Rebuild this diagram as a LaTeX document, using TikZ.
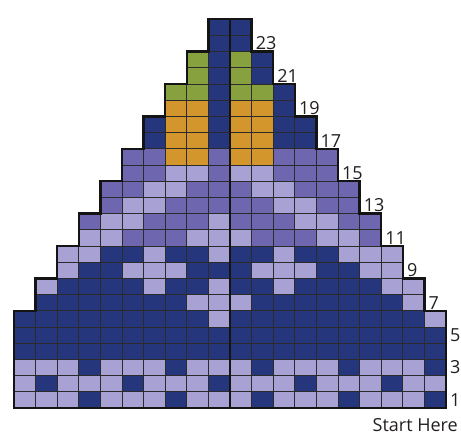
\documentclass[tikz,border=0pt]{standalone}
\usepackage{fontspec}
\setmainfont{Open Sans}
\definecolor{cD}{HTML}{26367C}
\definecolor{cL}{HTML}{A8A2D4}
\definecolor{cM}{HTML}{6E67B0}
\definecolor{cO}{HTML}{D3962C}
\definecolor{cG}{HTML}{86A13E}
\definecolor{gridc}{HTML}{2B2B2B}
\definecolor{txt}{HTML}{231F20}
\tikzset{
  cellbox/.style={draw=gridc, line width=0.9pt},
  outline/.style={draw=black!92, line width=2.3pt, line join=miter},
  centerline/.style={draw=black!92, line width=1.8pt},
  lbltext/.style={inner sep=0pt, font=\fontsize{18}{18}\selectfont, text=txt},
  rowlabel/.style={lbltext, anchor=west, xshift=4pt},
}
\begin{document}
\begin{tikzpicture}[x=1pt,y=1pt]
\useasboundingbox (0,0) rectangle (461,436);
\begin{scope}[shift={(14,28)}, x=21.6pt, y=16.2pt]
\foreach \r/\s/\lst in {
 1/0/{L,L,L,D,L,L,L,D,L,L,L,D,L,L,L,D,L,L,L,D},
 2/0/{L,D,L,L,L,D,L,L,L,D,L,L,L,D,L,L,L,D,L,L},
 3/0/{L,L,L,D,L,L,L,D,L,L,L,D,L,L,L,D,L,L,L,D},
 4/0/{D,D,D,D,D,D,D,D,D,D,D,D,D,D,D,D,D,D,D,D},
 5/0/{D,D,D,D,D,D,D,D,D,D,D,D,D,D,D,D,D,D,D,D},
 6/0/{D,D,D,D,D,D,D,D,D,L,D,D,D,D,D,D,D,D,D,L},
 7/1/{D,D,D,D,D,D,D,L,L,L,D,D,D,D,D,D,D,L},
 8/1/{L,D,D,D,D,L,D,D,L,D,D,L,D,D,D,D,L,L},
 9/2/{L,D,D,L,L,L,D,D,D,L,L,L,D,D,L,L},
 10/2/{L,L,D,D,L,D,D,L,D,D,L,D,D,L,L,L},
 11/3/{L,L,M,M,M,L,L,L,M,M,M,L,L,M},
 12/3/{M,L,L,M,M,M,L,M,M,M,L,L,M,M},
 13/4/{M,L,L,M,M,M,M,M,L,L,M,M},
 14/4/{M,M,L,L,M,M,M,L,L,M,M,M},
 15/5/{M,M,L,L,M,L,L,M,M,M},
 16/5/{M,M,O,O,M,O,O,M,M,M},
 17/6/{D,O,O,D,O,O,D,D},
 18/6/{D,O,O,D,O,O,D,D},
 19/7/{O,O,D,O,O,D},
 20/7/{G,G,D,G,G,D},
 21/8/{G,D,G,D},
 22/8/{G,D,G,D},
 23/9/{D,D},
 24/9/{D,D}}
{
  \foreach \c [count=\i from 0] in \lst {
    \path[cellbox, fill=c\c] ({\s+\i},{\r-1}) rectangle ++(1,1);
  }
}
\coordinate (cb) at (10,0);
\coordinate (ct) at (10,24);
\path[centerline] (cb) -- (ct);
\path[outline] (0,0) -- (20,0) -- (20,6) -- (19,6) -- (19,8) -- (18,8) -- (18,10) -- (17,10) -- (17,12) -- (16,12) -- (16,14) -- (15,14) -- (15,16) -- (14,16) -- (14,18) -- (13,18) -- (13,20) -- (12,20) -- (12,22) -- (11,22) -- (11,24) -- (9,24) -- (9,22) -- (8,22) -- (8,20) -- (7,20) -- (7,18) -- (6,18) -- (6,16) -- (5,16) -- (5,14) -- (4,14) -- (4,12) -- (3,12) -- (3,10) -- (2,10) -- (2,8) -- (1,8) -- (1,6) -- (0,6) -- cycle;
\foreach \r/\e in {1/20,3/20,5/20,7/19,9/18,11/17,13/16,15/15,17/14,19/13,21/12,23/11}{
  \node[rowlabel] (lab\r) at (\e,\r-0.5) {\r};
}
\end{scope}
\node[lbltext, anchor=base east] (start) at (458,4) {Start Here};
\end{tikzpicture}
\end{document}
